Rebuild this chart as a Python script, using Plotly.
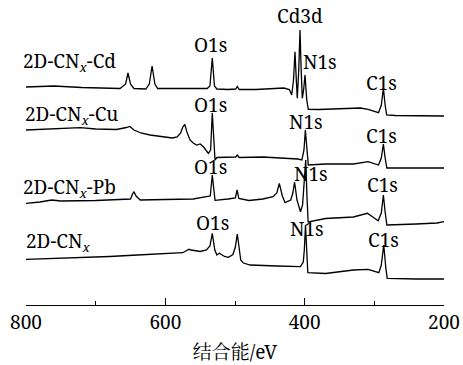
import plotly.graph_objects as go

# XPS survey spectra, binding energy (eV) vs intensity (a.u., stacked with offsets)
be_cd = [800, 760, 720, 680, 665, 657, 653.6, 650, 645, 628, 623, 619, 615, 611, 590, 560, 540, 536,
         532.6, 529.5, 526, 510, 499, 496.7, 494, 470, 445, 430, 422, 418.6, 416, 413.9, 412, 410.6,
         408.5, 406.7, 405, 403.4, 401.5, 399.5, 397, 394.8, 380, 340, 320, 309, 300, 294, 290, 287,
         284.5, 282.3, 270, 240, 200]
int_cd = [218, 219, 217.5, 217, 216.5, 221, 232, 221, 216.5, 216, 221, 239, 221, 216.5, 216.5, 217, 216.5, 219,
          247, 219, 216, 215.5, 216, 218.5, 215.5, 215.5, 216.5, 217, 215.5, 210, 225, 253.3, 225, 206.7,
          235, 275, 235, 206.7, 215, 230, 205, 195.7, 195.5, 196, 197, 195.7, 194, 192.3, 200, 216.7,
          200, 190, 189.5, 189.3, 189]

be_cu = [800, 780, 760, 740, 722, 700, 670, 656, 651, 645, 635, 622, 600, 590, 583, 578, 575, 572, 569,
         564.6, 560, 555, 550, 545, 538.3, 535, 532.6, 530, 528.7, 526, 510, 499, 496.7, 494, 460, 420,
         410, 404, 401, 399, 397, 394.8, 370, 330, 309, 294, 290, 287, 284.5, 282, 240, 200]
int_cu = [175, 175.5, 176, 177, 177.3, 176, 175.5, 177.5, 178.5, 175, 172, 170, 168, 167, 168, 172, 178, 180.5, 173,
          165, 162, 160, 161, 158, 151.7, 155, 192, 155, 145, 147.5, 148, 148, 150, 147.5, 148, 147,
          146, 145, 155, 175, 155, 140, 141, 141, 143.3, 140, 147, 161, 147, 137, 137, 137]

be_pb = [800, 780, 763, 750, 700, 660, 650, 647, 645, 642, 636, 600, 560, 541, 535.5, 532.6, 530, 528.7,
         510, 499.5, 497, 494.5, 480, 460, 445.5, 440, 436.4, 432, 428.2, 420, 417, 414.5, 411, 407.5,
         406, 403, 401, 398.5, 396.5, 395, 370, 330, 310, 294.5, 290, 287, 284.5, 282, 240, 210, 200]
int_pb = [101.7, 103, 105, 104, 104.5, 105.5, 106, 111, 113.3, 109, 105, 105.5, 106, 108.3, 109, 130, 109, 104.7,
          106, 107, 115, 106.5, 104.5, 106, 108.3, 112, 121.7, 109, 102.3, 105, 112, 123, 105, 95,
          93.3, 100, 120, 145, 105, 83, 86.5, 88, 91.7, 84.3, 92, 110, 93, 80, 81, 82, 83.3]

be_cn = [800, 760, 720, 680, 640, 600, 575, 566, 563, 550, 541, 536, 532.6, 529, 526, 522.5, 515, 509.5,
         503, 499.5, 496.7, 494, 491.8, 488, 478, 440, 415, 406, 402, 400.5, 398.8, 397, 395.5, 370,
         330, 309, 293.5, 290, 286.5, 283.5, 281.5, 240, 200]
int_cn = [45.7, 46.5, 47, 48.5, 50, 51.5, 52.3, 55.7, 55, 53.5, 55, 59, 71.7, 55, 50, 51.7, 48.5, 47.7,
          50.5, 58, 71, 57, 45, 42, 40, 39, 38.5, 38.3, 43, 55, 80, 55, 32.3, 31.5,
          35, 35.7, 32.3, 40, 60, 37, 26.7, 26, 26]

# Sample names, placed at the left end of each spectrum: (text, intensity, x shift in px)
sample_names = [
    ("2D-CN<sub><i>x</i></sub>-Cd", 243, -5),
    ("2D-CN<sub><i>x</i></sub>-Cu", 190, -3),
    ("2D-CN<sub><i>x</i></sub>-Pb", 117, -5),
    ("2D-CN<sub><i>x</i></sub>", 63.5, -2),
]

# Peak labels: (text, binding energy, intensity)
peak_labels = [
    ("O1s", 534.5, 260), ("Cd3d", 406.7, 289), ("N1s", 378.0, 243), ("C1s", 290.4, 222),
    ("O1s", 534.5, 200.5), ("N1s", 398.1, 183.5), ("C1s", 290.4, 169.3),
    ("O1s", 534.5, 138.5), ("N1s", 390.9, 131.5), ("C1s", 288.6, 120),
    ("O1s", 533.0, 82.5), ("N1s", 396.7, 76.5), ("C1s", 287.1, 65),
]

serif = "Noto Serif, Noto Serif CJK SC, Noto Sans CJK SC, serif"

fig = go.Figure()
for be, inten in [(be_cd, int_cd), (be_cu, int_cu), (be_pb, int_pb), (be_cn, int_cn)]:
    fig.add_trace(go.Scatter(x=be, y=inten, mode="lines",
                             line=dict(color="black", width=1.3), showlegend=False,
                             hoverinfo="skip"))

for text, y, dx in sample_names:
    fig.add_annotation(x=800, y=y, text=text, showarrow=False, xanchor="left",
                       yanchor="middle", xshift=dx,
                       font=dict(family=serif, size=19, color="black"))

for text, x, y in peak_labels:
    fig.add_annotation(x=x, y=y, text=text, showarrow=False, xanchor="center",
                       yanchor="middle", font=dict(family=serif, size=19, color="black"))

fig.update_layout(
    width=463, height=365,
    margin=dict(l=26, r=19, t=10, b=60),
    paper_bgcolor="white", plot_bgcolor="white",
    font=dict(family=serif, size=19, color="black"),
    xaxis=dict(range=[800, 200], tickvals=[800, 600, 400, 200], automargin=False,
               ticks="inside", ticklen=7, tickwidth=1.3, tickcolor="black",
               minor=dict(tickvals=[700, 500, 300], ticks="inside", ticklen=4,
                          tickwidth=1.3, tickcolor="black"),
               showline=True, linecolor="black", linewidth=1.3,
               showgrid=False, zeroline=False,
               tickfont=dict(family=serif, size=19),
               title=dict(text="结合能/eV", standoff=18,
                          font=dict(family=serif, size=19))),
    yaxis=dict(range=[0, 295], visible=False),
)

fig.write_html("out.html")
